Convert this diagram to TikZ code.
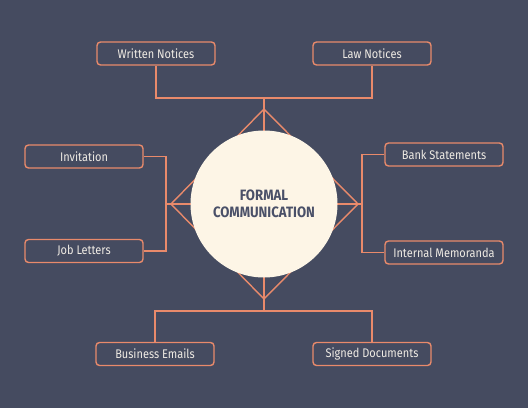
\documentclass[tikz,border=0pt]{standalone}
\usepackage{fontspec}
\setmainfont{Fira Sans}[FakeStretch=0.88]
\usepackage{xcolor}
\definecolor{slate}{HTML}{454B60}
\definecolor{salmon}{HTML}{E98A6B}
\definecolor{cream}{HTML}{FDF5E6}
\definecolor{ink}{HTML}{4A5068}
\definecolor{paper}{HTML}{EFEBE4}
\usepackage{tikz}

\begin{document}
\begin{tikzpicture}[x=1pt,y=-1pt,
        topic/.style={draw=salmon,line width=1.4pt,rounded corners=3.5pt,minimum width=118pt,minimum height=23pt,inner sep=0pt,text=paper,font=\fontsize{12.5}{14}\selectfont},
        link/.style={-,draw=salmon,line width=1.4pt}]
        \fill[slate] (0,0) rectangle (528,408);
        % points of the diamond and the buses
        \coordinate (dtop) at (264,109);
        \coordinate (dbot) at (264,299);
        \coordinate (dleft) at (171,204);
        \coordinate (dright) at (358,204);
        \coordinate (tbus) at (264,98);
        \coordinate (bbus) at (264,311);
        \coordinate (lbus) at (166,204);
        \coordinate (rbus) at (362,204);
        % boxes
        \node[topic] (wn) at (156,53.5) {Written Notices};
        \node[topic] (ln) at (372,53.5) {Law Notices};
        \node[topic] (inv) at (84,156.5) {Invitation};
        \node[topic] (jl) at (84,251) {Job Letters};
        \node[topic] (bs) at (444,154.5) {Bank Statements};
        \node[topic] (im) at (444,252.5) {Internal Memoranda};
        \node[topic] (be) at (155,354) {Business Emails};
        \node[topic] (sd) at (372,354) {Signed Documents};
        % connectors
        \draw[link] (wn.south) |- (tbus) -| (ln.south);
        \draw[link] (be.north) |- (bbus) -| (sd.north);
        \draw[link] (inv.east) -| (lbus) |- (jl.east);
        \draw[link] (bs.west) -| (rbus) |- (im.west);
        \draw[link] (tbus) -- (dtop);
        \draw[link] (bbus) -- (dbot);
        \draw[link] (lbus) -- (dleft);
        \draw[link] (rbus) -- (dright);
        \draw[link] (dtop) -- (dright) -- (dbot) -- (dleft) -- cycle;
        \draw[link] (dtop) -- (dbot);
        \draw[link] (dleft) -- (dright);
        \node[circle,fill=cream,minimum size=147pt,inner sep=0pt,align=center,text=ink,font=\bfseries\fontsize{15}{17}\selectfont] (hub) at (264,204) {FORMAL\\COMMUNICATION};
    \end{tikzpicture}
\end{document}
